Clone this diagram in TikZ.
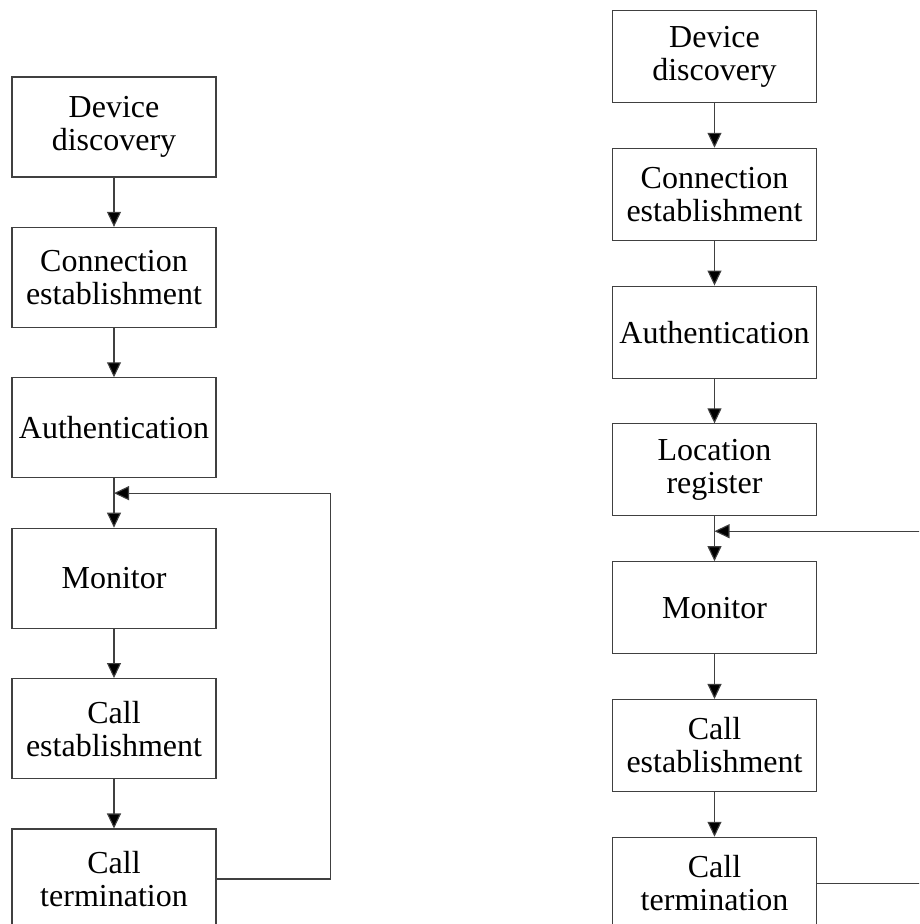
\documentclass[tikz,border=0pt]{standalone}
\usepackage{fontspec}
\setmainfont{Liberation Serif}
\usepackage{tikz}
\usetikzlibrary{arrows.meta, positioning, calc}

\begin{document}
\begin{tikzpicture}[
    x=1pt, y=-1pt,
    stage/.style={rectangle, draw=black!75, line width=1.1pt, fill=white, minimum width=204pt, minimum height=#1, align=center, inner sep=0pt, font=\fontsize{32}{33}\selectfont},
    stage/.default={100pt},
    flow/.style={-{Triangle[length=15pt, width=14pt, fill=black]}, line width=1.1pt, draw=black!75, #1},
    flow/.default={}
]
\useasboundingbox (0,0) rectangle (919,924);
\clip (0,0) rectangle (919,924);

% === LEFT FLOW ===
\node[stage] (ldisc) at (114, 127) {Device\\discovery};
\node[stage, below=49.3pt of ldisc] (lconn) {Connection\\establishment};
\node[stage, below=49.3pt of lconn] (lauth) {Authentication};
\node[stage, below=49.3pt of lauth] (lmon) {Monitor};
\node[stage, below=49.3pt of lmon] (lcall) {Call\\establishment};
\node[stage, below=49.3pt of lcall] (lterm) {Call\\termination};
\coordinate (ljoin) at ($(lauth.south)!0.3!(lmon.north)$);

% === RIGHT FLOW ===
\node[stage=92pt] (rdisc) at (714.5, 56.5) {Device\\discovery};
\node[stage=92pt, below=44.7pt of rdisc] (rconn) {Connection\\establishment};
\node[stage=92pt, below=44.7pt of rconn] (rauth) {Authentication};
\node[stage=92pt, below=44.7pt of rauth] (rloc) {Location\\register};
\node[stage=92pt, below=44.7pt of rloc] (rmon) {Monitor};
\node[stage=92pt, below=44.7pt of rmon] (rcall) {Call\\establishment};
\node[stage=92pt, below=44.7pt of rcall] (rterm) {Call\\termination};
\coordinate (rjoin) at ($(rloc.south)!0.33!(rmon.north)$);

% === ARROWS ===
\draw[flow] (ldisc.south) -- (lconn.north);
\draw[flow] (lconn.south) -- (lauth.north);
\draw[flow] (lauth.south) -- (lmon.north);
\draw[flow] (lmon.south) -- (lcall.north);
\draw[flow] (lcall.south) -- (lterm.north);
\draw[flow] (lterm.east) -- ++(114,0) |- (ljoin);

\draw[flow] (rdisc.south) -- (rconn.north);
\draw[flow] (rconn.south) -- (rauth.north);
\draw[flow] (rauth.south) -- (rloc.north);
\draw[flow] (rloc.south) -- (rmon.north);
\draw[flow] (rmon.south) -- (rcall.north);
\draw[flow] (rcall.south) -- (rterm.north);
\draw[flow] (rterm.east) -- ++(120,0) |- (rjoin);

\end{tikzpicture}
\end{document}
